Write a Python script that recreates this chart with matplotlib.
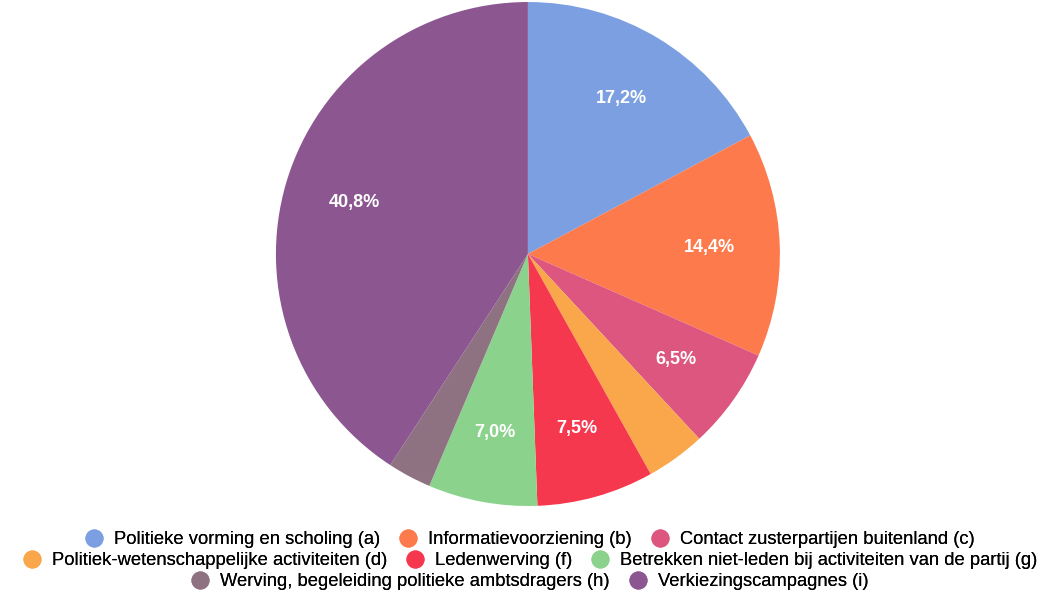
import matplotlib.pyplot as plt
from matplotlib.lines import Line2D

plt.rcParams["font.family"] = ["Liberation Sans", "DejaVu Sans"]

# categorieën en aandelen (%)
labels = [
    "Politieke vorming en scholing (a)",
    "Informatievoorziening (b)",
    "Contact zusterpartijen buitenland (c)",
    "Politiek-wetenschappelijke activiteiten (d)",
    "Ledenwerving (f)",
    "Betrekken niet-leden bij activiteiten van de partij (g)",
    "Werving, begeleiding politieke ambtsdragers (h)",
    "Verkiezingscampagnes (i)",
]
values = [17.2, 14.4, 6.5, 3.8, 7.5, 7.0, 2.8, 40.8]
colors = ["#7b9fe0", "#fd7a4c", "#dc5680", "#f9a74a",
          "#f6384f", "#8bd28c", "#8e7282", "#8c5690"]
rows = [[0, 1, 2], [3, 4, 5], [6, 7]]

fig = plt.figure(figsize=(10.49, 5.95), dpi=100)
ax = fig.add_axes([0.263, 0.1496, 0.4805, 0.847])


def fmt(p):
    return f"{p:.1f}%".replace(".", ",") if p > 5 else ""


wedges, texts, autotexts = ax.pie(
    values, colors=colors, startangle=90, counterclock=False,
    autopct=fmt, pctdistance=0.72,
    textprops=dict(color="white", fontweight="bold", fontsize=13))
ax.set_xlim(-1, 1)
ax.set_ylim(-1, 1)
ax.set_aspect("equal")

# legenda in drie gecentreerde rijen
ys = [0.0925, 0.0575, 0.022]
for row, y in zip(rows, ys):
    handles = [Line2D([], [], marker="o", linestyle="", markersize=12,
                      markerfacecolor=colors[i], markeredgecolor=colors[i])
               for i in row]
    leg = fig.legend(handles, [labels[i] for i in row], ncol=len(row),
                     loc="center", bbox_to_anchor=(0.505, y), frameon=False,
                     fontsize=13.2, handletextpad=0.6, columnspacing=1.0,
                     handlelength=1.0, borderpad=0, borderaxespad=0)
    fig.add_artist(leg)

fig.savefig("out.png", dpi=100)
